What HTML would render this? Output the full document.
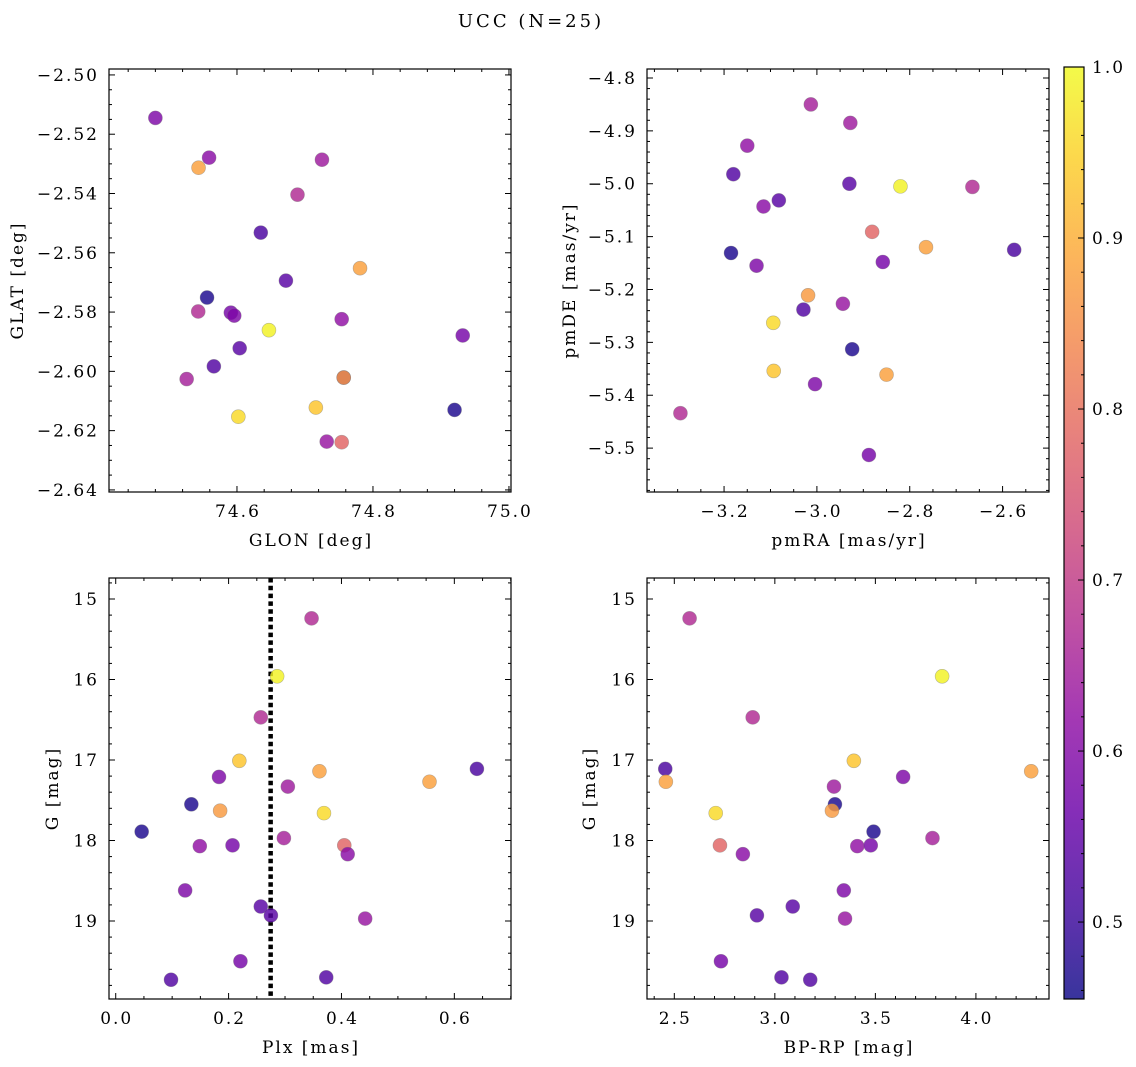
<!DOCTYPE html>
<html><head><meta charset="utf-8">
<style>
html,body{margin:0;padding:0;background:#fff;}
svg{display:block;font-family:"DejaVu Serif","Liberation Serif",serif;}
svg text{letter-spacing:2px;}
</style></head>
<body>
<svg id="fig" width="1136" height="1067" viewBox="0 0 1136 1067" xmlns="http://www.w3.org/2000/svg">
<defs>
<linearGradient id="plasma" x1="0" y1="1" x2="0" y2="0">
<stop offset="0" stop-color="#0d0887"/><stop offset="0.1" stop-color="#41049d"/><stop offset="0.2" stop-color="#6a00a8"/><stop offset="0.3" stop-color="#8f0da4"/><stop offset="0.4" stop-color="#b12a90"/><stop offset="0.5" stop-color="#cc4778"/><stop offset="0.6" stop-color="#e16462"/><stop offset="0.7" stop-color="#f2844b"/><stop offset="0.8" stop-color="#fca636"/><stop offset="0.9" stop-color="#fcce25"/><stop offset="1" stop-color="#f0f921"/>
</linearGradient>
</defs>
<text x="531" y="27" text-anchor="middle" font-size="18" style="letter-spacing:3px">UCC (N=25)</text>
</svg>
<script>
// ---- data (25 members) ----
const memberProb = [0.67,0.99,0.67,0.93,0.88,0.52,0.88,0.59,0.64,0.47,0.53,0.87,0.96,0.47,0.65,0.62,0.58,0.78,0.61,0.59,0.54,0.54,0.63,0.58,0.53];
const glon = [74.689,74.647,74.543,74.716,74.781,74.635,74.5435,74.480,74.725,74.556,74.757,74.757,74.602,74.920,74.526,74.754,74.591,74.754,74.559,74.596,74.672,74.604,74.732,74.932,74.566];
const glat = [-2.5404,-2.5861,-2.5798,-2.6122,-2.5652,-2.5532,-2.5313,-2.5145,-2.5286,-2.5751,-2.6021,-2.6021,-2.6153,-2.6130,-2.6026,-2.5824,-2.5802,-2.6239,-2.5279,-2.5812,-2.5694,-2.5922,-2.6237,-2.5879,-2.5983];
const pmra = [-3.294,-2.820,-2.665,-3.093,-2.765,-2.575,-2.850,-3.130,-2.928,-3.185,-3.029,-3.019,-3.094,-2.924,-3.013,-3.150,-2.858,-2.881,-3.115,-3.004,-2.930,-3.082,-2.944,-2.888,-3.180];
const pmde = [-5.434,-5.005,-5.006,-5.354,-5.120,-5.125,-5.361,-5.155,-4.885,-5.131,-5.238,-5.211,-5.263,-5.313,-4.850,-4.928,-5.148,-5.091,-5.043,-5.379,-5.000,-5.0315,-5.227,-5.513,-4.982];
const plx = [0.347,0.286,0.257,0.219,0.361,0.640,0.556,0.183,0.305,0.134,0.373,0.185,0.369,0.046,0.298,0.149,0.207,0.405,0.411,0.123,0.257,0.275,0.442,0.221,0.098];
const gmag = [15.24,15.96,16.47,17.01,17.14,17.11,17.27,17.21,17.33,17.55,19.70,17.63,17.66,17.89,17.97,18.07,18.06,18.06,18.17,18.62,18.82,18.93,18.97,19.50,19.73];
const bprp = [2.576,3.832,2.890,3.393,4.275,2.455,2.458,3.638,3.294,3.299,3.033,3.284,2.706,3.491,3.784,3.410,3.477,2.727,2.841,3.343,3.089,2.911,3.349,2.732,3.176];
const plxLine = [0.2745];
const cbTicks = [0.5,0.6,0.7,0.8,0.9,1.0];
const cbRange = [0.455,1.0];

const NS="http://www.w3.org/2000/svg";
const svg=document.getElementById('fig');
function mk(tag,attrs,parent){const e=document.createElementNS(NS,tag);for(const k in attrs)e.setAttribute(k,attrs[k]);(parent||svg).appendChild(e);return e;}

const plasma=[[13,8,135],[65,4,157],[106,0,168],[143,13,164],[177,42,144],[204,71,120],[225,100,98],[242,132,75],[252,166,54],[252,206,37],[240,249,33]];
function cmap(v){let t=(v-cbRange[0])/(cbRange[1]-cbRange[0]);t=Math.max(0,Math.min(1,t))*10;const i=Math.min(9,Math.floor(t)),f=t-i;const a=plasma[i],b=plasma[i+1];return 'rgb('+a.map((c,k)=>Math.round(c+(b[k]-c)*f)).join(',')+')';}
function fmt(v,d){const s=Math.abs(v).toFixed(d);return (v<-1e-9?'\u2212':'')+s;}
const FS=17;

function panel(cfg){
  const {name,x0,x1,y0,y1,xd,yd,yInv}=cfg;
  const sx=v=>x0+(v-xd[0])/(xd[1]-xd[0])*(x1-x0);
  const sy=yInv? (v=>y0+(v-yd[0])/(yd[1]-yd[0])*(y1-y0)) : (v=>y1-(v-yd[0])/(yd[1]-yd[0])*(y1-y0));
  const g=mk('g',{});
  
  
  const eps=1e-9;
  const xt=mk('g',{stroke:'#000','stroke-width':1},g);
  
  
  for(let k=Math.ceil(xd[0]/cfg.xmin-eps);k*cfg.xmin<=xd[1]+eps;k++){
    const v=k*cfg.xmin;const major=Math.abs(v/cfg.xmaj-Math.round(v/cfg.xmaj))<1e-6;const L=major?6:3;const px=sx(v);
    mk('line',{x1:px,x2:px,y1:y1,y2:y1-L},xt);mk('line',{x1:px,x2:px,y1:y0,y2:y0+L},xt);
    if(major){const t=mk('text',{x:px+1,y:y1+25,'text-anchor':'middle','font-size':FS,stroke:'none'},g);t.textContent=fmt(v,cfg.xdec);
      
      }
  }
  const yt=mk('g',{stroke:'#000','stroke-width':1},g);
  
  
  for(let k=Math.ceil(Math.min(...yd)/cfg.ymin-eps);k*cfg.ymin<=Math.max(...yd)+eps;k++){
    const v=k*cfg.ymin;const major=Math.abs(v/cfg.ymaj-Math.round(v/cfg.ymaj))<1e-6;const L=major?6:3;const py=sy(v);
    mk('line',{x1:x0,x2:x0+L,y1:py,y2:py},yt);mk('line',{x1:x1,x2:x1-L,y1:py,y2:py},yt);
    if(major){const t=mk('text',{x:x0-10,y:py+6,'text-anchor':'end','font-size':FS},g);t.textContent=fmt(v,cfg.ydec);
      
      }
  }
  const xl=mk('text',{x:(x0+x1)/2+1,y:y1+54,'text-anchor':'middle','font-size':FS},g);xl.textContent=cfg.xlabel;
  
  
  const yl=mk('text',{x:0,y:0,'text-anchor':'middle','font-size':FS,transform:'translate('+cfg.ylx+','+(y0+y1)/2+') rotate(-90)'},g);yl.textContent=cfg.ylabel;
  
  
  if(cfg.vline){for(const v of cfg.vline){const l=mk('line',{x1:sx(v),x2:sx(v),y1:y0,y2:y1,stroke:'#000','stroke-width':4.5,'stroke-dasharray':'4.5,3.3'},g);
    
    }}
  const pts=mk('g',{},g);
  
  
  for(let i=0;i<cfg.xs.length;i++){
    const c=mk('circle',{cx:sx(cfg.xs[i]),cy:sy(cfg.ys[i]),r:7,fill:cmap(memberProb[i]),'fill-opacity':0.82,stroke:'#777','stroke-opacity':0.5,'stroke-width':0.6},pts);
    
    
  }
  const fr=mk('rect',{x:x0,y:y0,width:x1-x0,height:y1-y0,fill:'none',stroke:'#000','stroke-width':1.2},g);
  
  
}

panel({name:'glon-glat',x0:109,x1:511,y0:69,y1:492,xd:[74.4118,75.003],yd:[-2.6407,-2.498],xmaj:0.2,xmin:0.04,ymaj:0.02,ymin:0.005,xdec:1,ydec:2,xs:glon,ys:glat,xlabel:'GLON [deg]',ylabel:'GLAT [deg]',ylx:23});
panel({name:'pmra-pmde',x0:647,x1:1049,y0:69,y1:492,xd:[-3.366,-2.500],yd:[-5.583,-4.783],xmaj:0.2,xmin:0.05,ymaj:0.1,ymin:0.02,xdec:1,ydec:1,xs:pmra,ys:pmde,xlabel:'pmRA [mas/yr]',ylabel:'pmDE [mas/yr]',ylx:575});
panel({name:'plx-g',x0:109,x1:511,y0:578,y1:999,xd:[-0.0119,0.7004],yd:[14.739,19.969],yInv:true,xmaj:0.2,xmin:0.05,ymaj:1,ymin:0.2,xdec:1,ydec:0,xs:plx,ys:gmag,xlabel:'Plx [mas]',ylabel:'G [mag]',ylx:58,vline:plxLine});
panel({name:'bprp-g',x0:647,x1:1049,y0:578,y1:999,xd:[2.3642,4.3635],yd:[14.739,19.969],yInv:true,xmaj:0.5,xmin:0.1,ymaj:1,ymin:0.2,xdec:1,ydec:0,xs:bprp,ys:gmag,xlabel:'BP-RP [mag]',ylabel:'G [mag]',ylx:595});

// colorbar
const cb=mk('g',{});


const cbx0=1064,cbx1=1084,cby0=67,cby1=999;
const cbr=mk('rect',{x:cbx0,y:cby0,width:cbx1-cbx0,height:cby1-cby0,fill:'url(#plasma)','fill-opacity':0.82},cb);


const cy=v=>cby1-(v-cbRange[0])/(cbRange[1]-cbRange[0])*(cby1-cby0);
for(let k=23;k<=50;k++){const v=k*0.02;if(v<cbRange[0]-1e-9||v>cbRange[1]+1e-9)continue;
  const major=Math.abs(v*10-Math.round(v*10))<1e-6;const L=major?6:3;
  mk('line',{x1:cbx1,x2:cbx1-L,y1:cy(v),y2:cy(v),stroke:'#000','stroke-width':1},cb);}
for(const v of cbTicks){const t=mk('text',{x:cbx1+8,y:cy(v)+6,'font-size':FS},cb);t.textContent=v.toFixed(1);
  
  }
const cbf=mk('rect',{x:cbx0,y:cby0,width:cbx1-cbx0,height:cby1-cby0,fill:'none',stroke:'#000','stroke-width':1.2},cb);


</script>
</body></html>
